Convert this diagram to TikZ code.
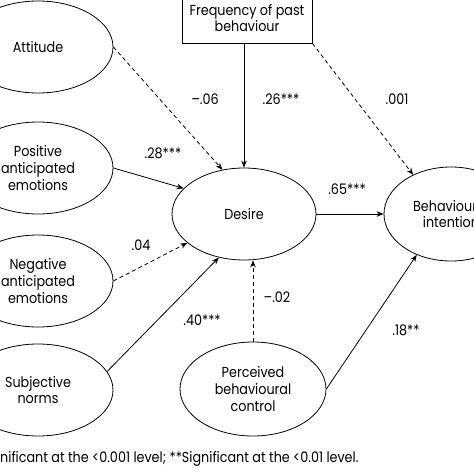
\documentclass[tikz,border=0pt]{standalone}
\usepackage{fontspec}
\setmainfont[FakeStretch=0.88]{Poppins}
\usetikzlibrary{shapes.geometric,arrows.meta}
\begin{document}
\begin{tikzpicture}[x=1pt,y=-1pt,
  every node/.style={font=\fontsize{14.5}{16.7}\selectfont},
  oval/.style={draw,ellipse,line width=0.8pt,inner sep=0pt,align=center},
  lbl/.style={inner sep=0pt},
  arr/.style={line width=0.8pt,-{Stealth[length=7pt,width=5.5pt]}},
  darr/.style={arr,dash pattern=on 4pt off 3pt}]
\useasboundingbox (0,0) rectangle (474,474);
\node[oval,minimum width=150pt,minimum height=92pt] (att) at (38,47) {Attitude};
\node[oval,minimum width=150pt,minimum height=92pt] (pos) at (38,168) {Positive\\anticipated\\emotions};
\node[oval,minimum width=150pt,minimum height=92pt] (neg) at (38,281) {Negative\\anticipated\\emotions};
\node[oval,minimum width=150pt,minimum height=92pt] (subj) at (38,390) {Subjective\\norms};
\node[oval,minimum width=144pt,minimum height=92pt] (des) at (244,214) {Desire};
\node[oval,minimum width=134pt,minimum height=94pt] (bi) at (451,214) {Behavioural\\intention};
\node[oval,minimum width=146pt,minimum height=94pt] (pbc) at (253,389) {Perceived\\behavioural\\control};
\node[draw,line width=0.8pt,minimum width=130pt,minimum height=50pt,align=center,inner sep=0pt] (freq) at (247,18) {Frequency of past\\behaviour};
% connectors
\draw[darr] (att.east) -- (des.116);
\draw[arr] (pos.east) -- (des.157);
\draw[darr] (neg.east) -- (des.207);
\draw[arr] (subj.15) -- (des.240);
\draw[arr] (freq.south -| des.north) -- (des.north);
\draw[darr] (freq.south east) -- (bi.134);
\draw[arr] (des.east) -- (bi.west);
\draw[darr] (pbc.north) -- (pbc.north |- des.south);
\draw[arr] (pbc.east) -- (bi.230);
% labels
\node[lbl] (l1) at (205,99) {–.06};
\node[lbl] (l2) at (163,153) {.28***};
\node[lbl] (l3) at (281,99) {.26***};
\node[lbl] (l4) at (397,99) {.001};
\node[lbl] (l5) at (347,189) {.65***};
\node[lbl] (l6) at (141,245) {.04};
\node[lbl] (l7) at (202,320) {.40***};
\node[lbl] (l8) at (277,297) {–.02};
\node[lbl] (l9) at (406,330) {.18**};
\node[lbl,anchor=west] (fn) at (0,459) {nificant at the <0.001 level; **Significant at the <0.01 level.};
\end{tikzpicture}
\end{document}
